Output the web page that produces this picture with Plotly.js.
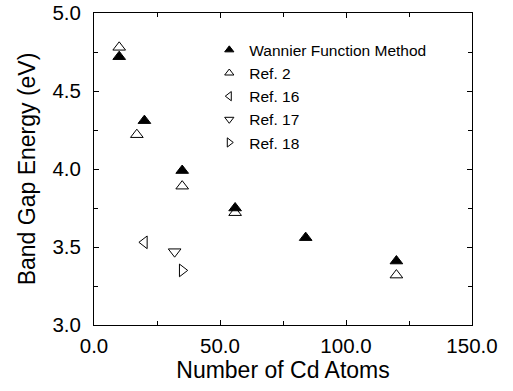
<!DOCTYPE html>
<html><head><meta charset="utf-8">
<script src="https://cdn.plot.ly/plotly-3.0.1.min.js"></script>
<style>html,body{margin:0;padding:0;background:#fff}#chart{width:513px;height:391px}</style>
</head><body><div id="chart"></div>
<script>
const wannierX = [10, 20, 35, 56, 84, 120];
const wannierY = [4.72, 4.31, 3.99, 3.75, 3.56, 3.41];
const ref2X = [10, 17, 35, 56, 120];
const ref2Y = [4.78, 4.22, 3.89, 3.72, 3.32];
const ref16X = [20];
const ref16Y = [3.53];
const ref17X = [32];
const ref17Y = [3.47];
const ref18X = [35];
const ref18Y = [3.35];
const seriesNames = ['Wannier Function Method', 'Ref. 2', 'Ref. 16', 'Ref. 17', 'Ref. 18'];
const symbols = ['triangle-up', 'triangle-up-open', 'triangle-left-open', 'triangle-down-open', 'triangle-right-open'];
const xs = [wannierX, ref2X, ref16X, ref17X, ref18X];
const ys = [wannierY, ref2Y, ref16Y, ref17Y, ref18Y];

const font = "'Liberation Sans', Arial, Helvetica, sans-serif";
const data = [];
seriesNames.forEach((n, i) => {
  data.push({type:'scatter', mode:'markers', name:n, x:xs[i], y:ys[i], showlegend:false,
    marker:{symbol:symbols[i], size:11, color:'#000', line:{color:'#000', width:1}}});
});
seriesNames.forEach((n, i) => {
  data.push({type:'scatter', mode:'markers', name:n, x:[null], y:[null], showlegend:true,
    marker:{symbol:symbols[i], size:8, color:'#000', line:{color:'#000', width:1}}});
});
const axisCommon = {showline:true, linecolor:'#000', linewidth:1, mirror:'allticks',
  ticks:'inside', ticklen:5, tickcolor:'#000', showgrid:false, zeroline:false,
  ticklabeloverflow:'allow', ticklabelstandoff:8,
  tickfont:{family:font, size:20.5, color:'#000'}};
const layout = {
  width:513, height:391,
  margin:{l:94, r:41, t:13, b:66},
  paper_bgcolor:'#fff', plot_bgcolor:'#fff',
  font:{family:font, color:'#000'},
  showlegend:true,
  legend:{x:0.305, y:0.935, xanchor:'left', yanchor:'top', bgcolor:'rgba(0,0,0,0)',
    font:{family:font, size:15.5, color:'#000'}, itemsizing:'trace'},
  xaxis:Object.assign({}, axisCommon, {range:[0,150], tickvals:[0,50,100,150],
    ticktext:['0.0','50.0','100.0','150.0'], ticklabelstandoff:2,
    minor:{tickvals:[25,75,125], ticks:'inside', ticklen:4, tickcolor:'#000'},
    title:{text:'Number of Cd Atoms', font:{family:font, size:23, color:'#000'}, standoff:6}}),
  yaxis:Object.assign({}, axisCommon, {range:[3,5], tickvals:[3,3.5,4,4.5,5],
    ticktext:['3.0','3.5','4.0','4.5','5.0'],
    minor:{tickvals:[3.25,3.75,4.25,4.75], ticks:'inside', ticklen:4, tickcolor:'#000'},
    title:{text:'Band Gap Energy (eV)', font:{family:font, size:23, color:'#000'}, standoff:10}})
};
Plotly.newPlot('chart', data, layout, {displayModeBar:false, staticPlot:true});
</script></body></html>
